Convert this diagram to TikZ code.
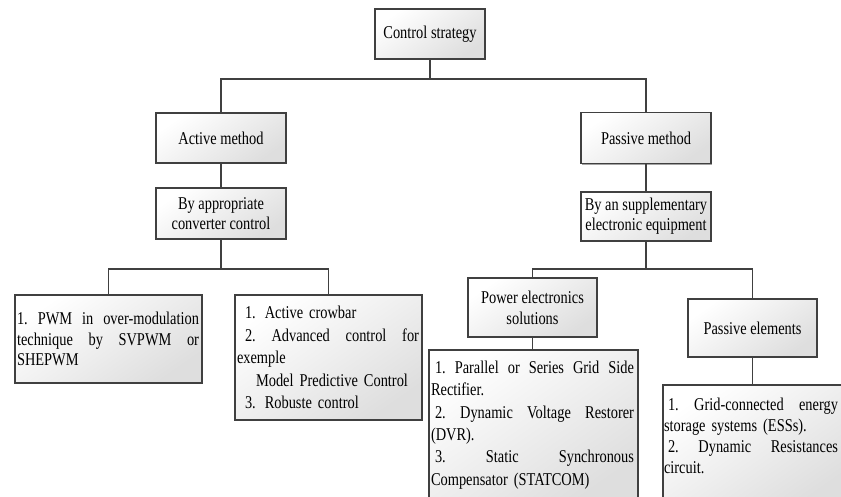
\documentclass[tikz,border=0pt]{standalone}
\usepackage{fontspec}
\setmainfont[FakeStretch=0.8]{Liberation Serif}
\usetikzlibrary{shadows}
\newcommand{\jline}[2]{\makebox[#1][l]{#2}}
\begin{document}
\begin{tikzpicture}[x=1pt,y=-1pt]
\tikzset{
  box/.style={draw=black!75, line width=1.1pt, top color=white, bottom color=black!13, shading angle=35,
    drop shadow={shadow xshift=1.1pt, shadow yshift=-1.1pt, opacity=0.45, fill=black!80},
    inner sep=0pt, outer sep=0pt, font=\fontsize{18}{20}\selectfont, align=center},
  conn/.style={draw=black!75, line width=1.2pt},
  listtext/.style={align=left, inner sep=0pt, outer sep=0pt},
}
\useasboundingbox (0,0) rectangle (841,497);
\clip (0,0) rectangle (841,497);

% title boxes
\node[box, minimum width=110pt, minimum height=50pt] (cs) at (430,34) {Control strategy};
\node[box, minimum width=130pt, minimum height=50pt] (act) at (221,138) {Active method};
\node[box, minimum width=130pt, minimum height=51pt] (pas) at (646,138) {Passive method};
\node[box, minimum width=130pt, minimum height=51pt] (app) at (221,213.5) {By appropriate\\converter control};
\node[box, minimum width=130pt, minimum height=49pt] (sup) at (646,216.5) {By an supplementary\\electronic equipment};
\node[box, minimum width=129pt, minimum height=59pt, font=\fontsize{18}{21}\selectfont] (pe) at (532.5,307.5) {Power electronics\\solutions};
\node[box, minimum width=129pt, minimum height=58pt] (pel) at (752.5,328) {Passive elements};

% list boxes
\node[box, listtext, minimum width=187pt, minimum height=88pt, text width=183pt,
      font=\fontsize{18}{20.5}\selectfont] (pwm) at (108.5,339)
  {\jline{182pt}{1.\hfill PWM\hfill in\hfill over-modulation}\\
   \jline{182pt}{technique\hfill by\hfill SVPWM\hfill or}\\
   SHEPWM};

\node[box, listtext, minimum width=187pt, minimum height=125pt, text width=183pt,
      font=\fontsize{18}{22.5}\selectfont] (crow) at (328.5,357.5)
  {\hspace*{8pt}1. Active crowbar\\
   \hspace*{8pt}\jline{174pt}{2.\hfill Advanced\hfill control\hfill for}\\
   exemple\\
   \hspace*{19pt}Model Predictive Control\\
   \hspace*{8pt}3. Robuste control};

\node[box, listtext, minimum width=209pt, minimum height=150pt, text width=205pt,
      font=\fontsize{18}{22.4}\selectfont] (par) at (533.5,425)
  {\hspace*{4pt}\jline{199pt}{1.\hfill Parallel\hfill or\hfill Series\hfill Grid\hfill Side}\\
   Rectifier.\\
   \hspace*{4pt}\jline{199pt}{2.\hfill Dynamic\hfill Voltage\hfill Restorer}\\
   (DVR).\\
   \hspace*{4pt}\jline{199pt}{3.\hfill Static\hfill Synchronous}\\
   Compensator (STATCOM)};

\node[box, minimum width=186pt, minimum height=120pt] (grid) at (756,445) {};
\node[listtext, anchor=west, text width=176pt, font=\fontsize{18}{21}\selectfont] (gridtxt) at (664,436)
  {\hspace*{4pt}\jline{170pt}{1.\hfill Grid-connected\hfill energy}\\
   storage systems (ESSs).\\
   \hspace*{4pt}\jline{170pt}{2.\hfill Dynamic\hfill Resistances}\\
   circuit.};

% connectors
\coordinate (b1) at (430,79);
\draw[conn] (cs.south) -- (b1);
\draw[conn] (act.north) |- (b1) -| (pas.north);
\draw[conn] (act.south) -- (app.north);
\draw[conn] (pas.south) -- (sup.north);

\coordinate (b2) at (221,269);
\draw[conn] (app.south) -- (b2);
\draw[conn] (pwm.north) |- (b2) -| (crow.north);

\coordinate (b3) at (646,269);
\draw[conn] (sup.south) -- (b3);
\draw[conn] (pe.north) |- (b3) -| (pel.north);

\draw[conn] (pe.south) -- (pe.south |- par.north);
\draw[conn] (pel.south) -- (pel.south |- grid.north);
\end{tikzpicture}
\end{document}
